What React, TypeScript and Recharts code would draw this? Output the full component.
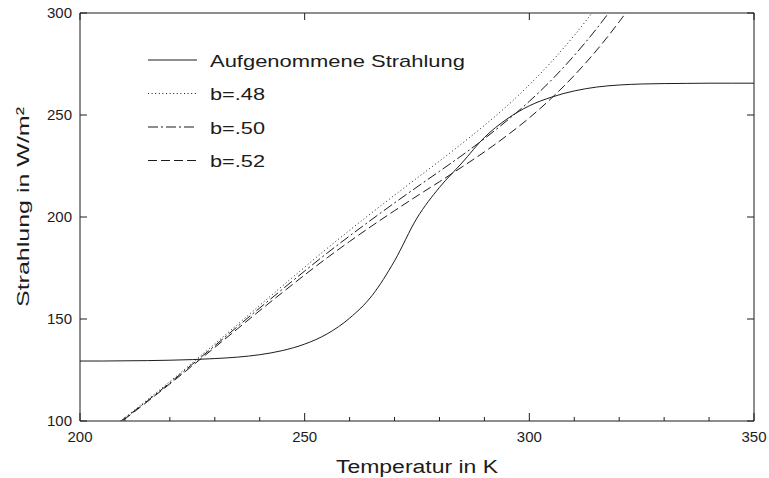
import React from 'react';
import { LineChart, Line, XAxis, YAxis, Legend } from 'recharts';

// ---- data ----
const temps = [200, 205, 210, 215, 220, 225, 230, 235, 240, 245, 250, 255, 260, 265, 270, 275, 280, 285, 290, 295, 300, 305, 310, 315, 320, 325, 330, 335, 340, 345, 350];
const absorbed = [129.4, 129.4, 129.5, 129.6, 129.8, 130.1, 130.6, 131.3, 132.5, 134.5, 137.7, 142.7, 150.4, 161.5, 178.5, 199.5, 214.5, 226.5, 239.0, 248.0, 254.5, 258.8, 261.8, 263.7, 264.7, 265.2, 265.4, 265.5, 265.6, 265.6, 265.6];

const outgoingTemps = [205, 210, 215, 220, 225, 230, 235, 240, 245, 250, 255, 260, 265, 270, 275, 280, 285, 290, 295, 300, 305, 310, 315, 320, 325];
const b48 = [93.4, 101.7, 110.4, 119.3, 128.5, 137.8, 147.2, 156.7, 166.1, 175.4, 184.6, 193.5, 202.2, 210.7, 219.1, 227.4, 236.0, 244.9, 254.4, 264.8, 276.3, 289.0, 303.1, 318.7, 335.8];
const b50 = [93.1, 101.4, 109.9, 118.7, 127.8, 136.9, 146.2, 155.4, 164.5, 173.5, 182.3, 190.7, 198.9, 206.9, 214.7, 222.4, 230.2, 238.4, 247.2, 256.7, 267.3, 279.2, 292.4, 307.2, 323.4];
const b52 = [92.8, 101.0, 109.5, 118.2, 127.1, 136.1, 145.1, 154.1, 162.9, 171.6, 180.0, 188.0, 195.7, 203.1, 210.3, 217.3, 224.5, 231.9, 239.9, 248.6, 258.4, 269.4, 281.8, 295.7, 311.0];

const xTicksBottom = [200, 210, 220, 230, 240, 250, 260, 270, 280, 290, 300, 310, 320, 330, 340, 350];
const xTicksTop = [200, 250, 300, 350];
const yTicks = [100, 150, 200, 250, 300];
const seriesKeys = ['absorbed', 'b48', 'b50', 'b52'];
const seriesLabels = ['Aufgenommene Strahlung', 'b=.48', 'b=.50', 'b=.52'];
const xTitle = 'Temperatur in K';
const yTitle = 'Strahlung in W/m²';

// ---- styles ----
const INK = '#1c1c1c';
const FONT = '"Liberation Sans", Arial, Helvetica, sans-serif';
const dashes: (string | undefined)[] = [undefined, '1 2.6', '10 3 2 3', '9 4'];
const legendTextLen = [255, 55, 55, 55];

const data = temps.map((t, i) => {
  const j = outgoingTemps.indexOf(t);
  return {
    T: t,
    absorbed: absorbed[i],
    b48: j >= 0 ? b48[j] : null,
    b50: j >= 0 ? b50[j] : null,
    b52: j >= 0 ? b52[j] : null,
  };
});

const BottomTick = (props: any) => {
  const { x, y, payload } = props;
  const v = payload.value;
  const major = v % 50 === 0;
  return (
    <g>
      <line x1={x} x2={x} y1={y} y2={y - (major ? 8 : 4)} stroke={INK} strokeWidth={1} />
      {major && (
        <text x={x} y={y + 21} textAnchor="middle" fontSize={15} fill={INK} fontFamily={FONT}>
          {v}
        </text>
      )}
    </g>
  );
};

const TopTick = (props: any) => {
  const { x, y } = props;
  return <line x1={x} x2={x} y1={y} y2={y + 7} stroke={INK} strokeWidth={1} />;
};

const LeftTick = (props: any) => {
  const { x, y, payload } = props;
  return (
    <g>
      <line x1={x} x2={x + 7} y1={y} y2={y} stroke={INK} strokeWidth={1} />
      <text x={x - 8} y={y + 5.3} textAnchor="end" fontSize={15} fill={INK} fontFamily={FONT}>
        {payload.value}
      </text>
    </g>
  );
};

const RightTick = (props: any) => {
  const { x, y } = props;
  return <line x1={x} x2={x - 7} y1={y} y2={y} stroke={INK} strokeWidth={1} />;
};

const XTitle = (props: any) => {
  const vb = props.viewBox || { x: 80, y: 421, width: 674, height: 30 };
  const cx = vb.x + vb.width / 2;
  return (
    <text x={cx} y={vb.y + 52} textAnchor="middle" fontSize={18} fill={INK} fontFamily={FONT} textLength={162} lengthAdjust="spacingAndGlyphs">
      {xTitle}
    </text>
  );
};

const YTitle = (props: any) => {
  const vb = props.viewBox || { x: 20, y: 13, width: 60, height: 408 };
  const cx = vb.x + vb.width - 51;
  const cy = vb.y + vb.height / 2 - 10;
  return (
    <text x={cx} y={cy} transform={`rotate(-90 ${cx} ${cy})`} textAnchor="middle" fontSize={17} fill={INK} fontFamily={FONT} textLength={200} lengthAdjust="spacingAndGlyphs">
      {yTitle}
    </text>
  );
};

const LegendBox = () => (
  <svg width={380} height={140} style={{ display: 'block' }}>
    {seriesKeys.map((k, i) => {
      const cy = 20 + i * 33.5;
      return (
        <g key={k}>
          <line x1={8} x2={57} y1={cy} y2={cy} stroke={INK} strokeWidth={1} strokeDasharray={dashes[i]} />
          <text x={70} y={cy + 6.5} fontSize={17} fill={INK} fontFamily={FONT} textLength={legendTextLen[i]} lengthAdjust="spacingAndGlyphs">
            {seriesLabels[i]}
          </text>
        </g>
      );
    })}
  </svg>
);

export default function App() {
  return (
    <div style={{ position: 'absolute', left: 0, top: 0, background: '#fff' }}>
      <LineChart width={769} height={478} data={data} margin={{ top: 12, right: 14, bottom: 27, left: 20 }}>
        <XAxis
          xAxisId="bottom"
          dataKey="T"
          type="number"
          domain={[200, 350]}
          ticks={xTicksBottom}
          interval={0}
          height={30}
          tickSize={0}
          tickMargin={0}
          tickLine={false}
          axisLine={{ stroke: INK, strokeWidth: 1.2 }}
          tick={<BottomTick />}
          allowDataOverflow
          label={XTitle}
        />
        <XAxis
          xAxisId="top"
          orientation="top"
          dataKey="T"
          type="number"
          domain={[200, 350]}
          ticks={xTicksTop}
          interval={0}
          height={1}
          tickSize={0}
          tickMargin={0}
          tickLine={false}
          axisLine={{ stroke: INK, strokeWidth: 1 }}
          tick={<TopTick />}
          allowDataOverflow
        />
        <YAxis
          yAxisId="left"
          type="number"
          domain={[100, 300]}
          ticks={yTicks}
          interval={0}
          width={60}
          tickSize={0}
          tickMargin={0}
          tickLine={false}
          axisLine={{ stroke: INK, strokeWidth: 1 }}
          tick={<LeftTick />}
          allowDataOverflow
          label={YTitle}
        />
        <YAxis
          yAxisId="right"
          orientation="right"
          type="number"
          domain={[100, 300]}
          ticks={yTicks}
          interval={0}
          width={1}
          tickSize={0}
          tickMargin={0}
          tickLine={false}
          axisLine={{ stroke: INK, strokeWidth: 1 }}
          tick={<RightTick />}
          allowDataOverflow
        />
        <Legend
          layout="vertical"
          align="center"
          verticalAlign="middle"
          wrapperStyle={{ position: 'absolute', left: 140, top: 40, width: 380, height: 140 }}
          content={LegendBox}
        />
        {seriesKeys.map((k, i) => (
          <Line
            key={k}
            xAxisId="bottom"
            yAxisId="left"
            dataKey={k}
            type="monotone"
            stroke={INK}
            strokeWidth={1}
            strokeDasharray={dashes[i]}
            dot={false}
            activeDot={false}
            isAnimationActive={false}
            legendType="none"
          />
        ))}
      </LineChart>
    </div>
  );
}
